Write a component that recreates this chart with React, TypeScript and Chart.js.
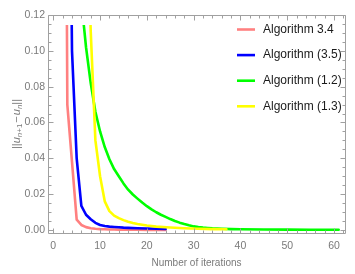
import { useEffect, useRef } from "react";
import { Chart, registerables } from "chart.js";

Chart.register(...registerables);

// ---- data ----
const seriesLabels = ["Algorithm 3.4", "Algorithm (3.5)", "Algorithm (1.2)", "Algorithm (1.3)"];
const seriesColors = ["#ff8080", "#0000ff", "#00ff00", "#ffff00"];

const pinkIter = [2, 3, 4, 5, 6, 7, 8, 9, 10, 11, 12, 13, 14, 15, 16, 18, 20, 22, 24];
const pinkVals = [0.6, 0.07, 0.038, 0.0058, 0.0028, 0.0016, 0.001, 0.0007, 0.0005, 0.0004, 0.0003, 0.00025, 0.0002, 0.00015, 0.00012, 0.0001, 0.00008, 0.00006, 0.00005];

const blueIter = [3, 4, 5, 6, 7, 8, 9, 10, 11, 12, 13, 14, 15, 16, 18, 20, 22, 24];
const blueVals = [0.35, 0.1, 0.04, 0.0135, 0.0085, 0.006, 0.004, 0.0028, 0.0022, 0.0019, 0.0017, 0.0015, 0.0013, 0.0012, 0.001, 0.0008, 0.0007, 0.0006];

const greenIter = [6, 7, 8, 9, 10, 11, 12, 13, 14, 15, 16, 17, 18, 19, 20, 21, 22, 23, 24, 25, 26, 27, 28, 29, 30, 31, 32, 33, 34, 35, 36, 38, 40, 45, 50, 55, 61];
const greenVals = [0.128, 0.102, 0.082, 0.066, 0.055, 0.0463, 0.0395, 0.034, 0.03, 0.026, 0.0225, 0.0198, 0.0175, 0.0153, 0.0133, 0.0115, 0.0099, 0.0085, 0.0073, 0.0061, 0.005, 0.0041, 0.0033, 0.0026, 0.002, 0.0016, 0.0013, 0.0011, 0.0009, 0.0008, 0.0007, 0.0005, 0.0004, 0.0003, 0.0002, 0.0001, 0.0001];

const yellowIter = [7, 8, 9, 10, 11, 12, 13, 14, 15, 16, 17, 18, 20, 22, 25, 28, 31, 34, 37];
const yellowVals = [0.2, 0.111, 0.05, 0.03, 0.016, 0.0105, 0.008, 0.0066, 0.0055, 0.0046, 0.0039, 0.0033, 0.0025, 0.0019, 0.0014, 0.001, 0.0007, 0.0005, 0.0004];

const xTickValues = [0, 10, 20, 30, 40, 50, 60];
const yTickValues = [0, 0.02, 0.04, 0.06, 0.08, 0.1, 0.12];
const xMinorStep = 2;
const yMinorStep = 0.005;
const xAxisTitle = "Number of iterations";
// y-axis title pieces: ||u_{n+1} − u_n||
const yTitleParts = [
  { t: "||", it: false, sub: false },
  { t: "u", it: true, sub: false },
  { t: "n", it: true, sub: true },
  { t: "+1", it: false, sub: true },
  { t: "\u2212", it: false, sub: false },
  { t: "u", it: true, sub: false },
  { t: "n", it: true, sub: true },
  { t: "||", it: false, sub: false },
];

// ---- style ----
const FONT = "'Liberation Sans', Arial, sans-serif";
const FRAME = "#a0a0a0";
const LABEL = "#7a7a7a";

function pts(xs: number[], ys: number[]) {
  return xs.map((x, i) => ({ x, y: ys[i] }));
}

const framePlugin = {
  id: "frameTicks",
  afterDatasetsDraw(chart: any) {
    const { ctx, chartArea } = chart;
    const { left, right, top, bottom } = chartArea;
    const xs = chart.scales.x;
    const ys = chart.scales.y;
    ctx.save();
    ctx.strokeStyle = FRAME;
    ctx.lineWidth = 1;
    ctx.beginPath();
    ctx.rect(Math.round(left) + 0.5, Math.round(top) + 0.5, Math.round(right - left), Math.round(bottom - top));
    ctx.stroke();
    const L = Math.round(left) + 0.5;
    const R = Math.round(right) + 0.5;
    const T = Math.round(top) + 0.5;
    const B = Math.round(bottom) + 0.5;
    ctx.beginPath();
    for (let v = Math.ceil(xs.min / xMinorStep) * xMinorStep; v <= xs.max + 1e-9; v += xMinorStep) {
      const major = xTickValues.some((m) => Math.abs(m - v) < 1e-9);
      const len = major ? 5 : 3;
      const px = Math.round(xs.getPixelForValue(v)) + 0.5;
      ctx.moveTo(px, B);
      ctx.lineTo(px, B - len);
      ctx.moveTo(px, T);
      ctx.lineTo(px, T + len);
    }
    for (let k = Math.ceil(ys.min / yMinorStep); k * yMinorStep <= ys.max + 1e-9; k++) {
      const v = k * yMinorStep;
      const major = yTickValues.some((m) => Math.abs(m - v) < 1e-9);
      const len = major ? 5 : 3;
      const py = Math.round(ys.getPixelForValue(v)) + 0.5;
      ctx.moveTo(L, py);
      ctx.lineTo(L + len, py);
      ctx.moveTo(R, py);
      ctx.lineTo(R - len, py);
    }
    ctx.stroke();
    ctx.restore();
  },
};

const legendPlugin = {
  id: "insideLegend",
  afterDraw(chart: any) {
    const { ctx, chartArea } = chart;
    ctx.save();
    chart.data.datasets.forEach((ds: any, i: number) => {
      const y = chartArea.top + 14.5 + i * 25.6;
      ctx.strokeStyle = ds.borderColor;
      ctx.lineWidth = 2.6;
      ctx.lineCap = "butt";
      ctx.beginPath();
      ctx.moveTo(chartArea.right - 108, y);
      ctx.lineTo(chartArea.right - 90, y);
      ctx.stroke();
      ctx.fillStyle = "#1a1a1a";
      ctx.font = `12px ${FONT}`;
      ctx.textBaseline = "middle";
      ctx.textAlign = "left";
      ctx.fillText(ds.label, chartArea.right - 82, y);
    });
    ctx.restore();
  },
};

const yTitlePlugin = {
  id: "yTitle",
  afterDraw(chart: any) {
    const { ctx, chartArea } = chart;
    const cy = (chartArea.top + chartArea.bottom) / 2;
    const cx = 16;
    ctx.save();
    ctx.translate(cx, cy);
    ctx.rotate(-Math.PI / 2);
    ctx.fillStyle = LABEL;
    ctx.textBaseline = "alphabetic";
    ctx.textAlign = "left";
    const fontFor = (p: any) => `${p.it ? "italic " : ""}${p.sub ? 8 : 11}px ${FONT}`;
    let total = 0;
    const widths = yTitleParts.map((p) => {
      ctx.font = fontFor(p);
      const w = ctx.measureText(p.t).width + (p.t === "\u2212" ? 2 : 0);
      total += w;
      return w;
    });
    let x = -total / 2;
    yTitleParts.forEach((p, i) => {
      ctx.font = fontFor(p);
      ctx.fillText(p.t, x + (p.t === "\u2212" ? 1 : 0), p.sub ? 6 : 4);
      x += widths[i];
    });
    ctx.restore();
  },
};

export default function App() {
  const ref = useRef<HTMLCanvasElement | null>(null);
  useEffect(() => {
    if (!ref.current) return;
    const series = [
      pts(pinkIter, pinkVals),
      pts(blueIter, blueVals),
      pts(greenIter, greenVals),
      pts(yellowIter, yellowVals),
    ];
    const chart = new Chart(ref.current, {
      type: "line",
      data: {
        datasets: series.map((data, i) => ({
          label: seriesLabels[i],
          data,
          borderColor: seriesColors[i],
          backgroundColor: seriesColors[i],
          borderWidth: 2.6,
          pointRadius: 0,
          tension: 0,
          fill: false,
          borderCapStyle: "round",
          borderJoinStyle: "round",
          order: 4 - i,
          clip: { left: 0, top: -10, right: 0, bottom: 0 },
        })),
      },
      options: {
        animation: false,
        responsive: true,
        maintainAspectRatio: false,
        layout: { padding: { top: 15, right: 10, left: 0, bottom: 0 } },
        plugins: { legend: { display: false }, tooltip: { enabled: false } },
        scales: {
          x: {
            type: "linear",
            min: -1.13,
            max: 62.35,
            grid: { display: false, drawTicks: false },
            border: { display: false },
            ticks: {
              color: LABEL,
              font: { family: FONT, size: 10.5 },
              padding: 7,
              maxRotation: 0,
              autoSkip: false,
              callback: (v: any) => String(v),
            },
            afterBuildTicks: (s: any) => {
              s.ticks = xTickValues.map((v) => ({ value: v }));
            },
            afterFit: (s: any) => {
              s.height = 41;
            },
            title: {
              display: true,
              text: xAxisTitle,
              color: LABEL,
              font: { family: FONT, size: 10 },
              padding: { top: 0, bottom: 5 },
            },
          },
          y: {
            type: "linear",
            min: -0.00168,
            max: 0.12,
            grid: { display: false, drawTicks: false },
            border: { display: false },
            ticks: {
              color: LABEL,
              font: { family: FONT, size: 10.5 },
              padding: 3,
              autoSkip: false,
              callback: (v: any) => Number(v).toFixed(2),
            },
            afterBuildTicks: (s: any) => {
              s.ticks = yTickValues.map((v) => ({ value: v }));
            },
            afterFit: (s: any) => {
              s.width = 48;
            },
          },
        },
      } as any,
      plugins: [framePlugin, legendPlugin, yTitlePlugin],
    });
    return () => chart.destroy();
  }, []);
  return (
    <div style={{ position: "fixed", left: 0, top: 0, width: 355, height: 274, background: "#fff" }}>
      <canvas ref={ref} />
    </div>
  );
}
